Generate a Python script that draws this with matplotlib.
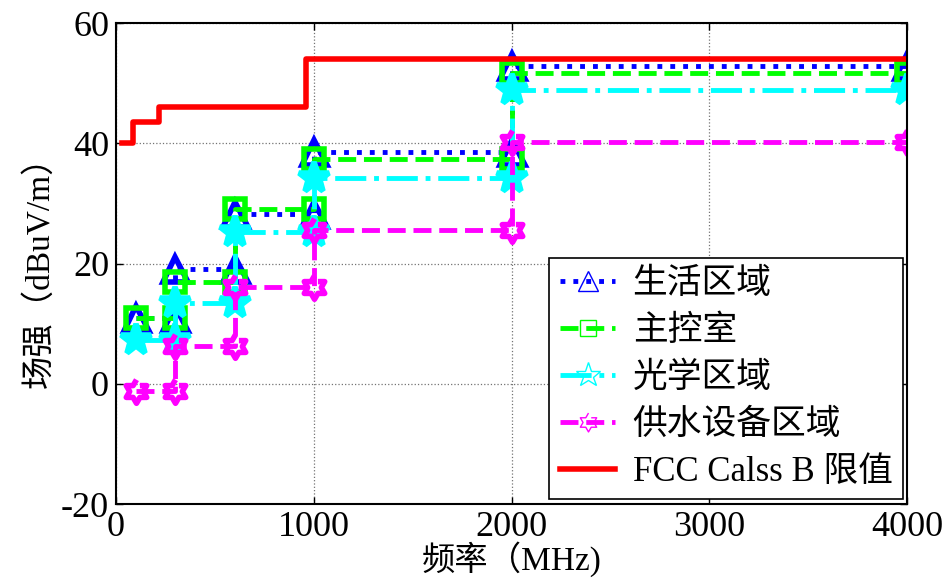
import numpy as np
import matplotlib
matplotlib.use("Agg")
from matplotlib import pyplot as plt
from matplotlib.lines import Line2D

plt.rcParams['font.family'] = ['Liberation Serif', 'Noto Sans CJK SC', 'DejaVu Sans']
plt.rcParams['axes.unicode_minus'] = False

# measurement bands (MHz) and field strength per band (dBuV/m)
freq_edges = [100, 300, 600, 1000, 2000, 4000]
living = [11.0, 19.1, 28.3, 38.5, 52.9]
control = [11.0, 16.9, 29.0, 37.4, 51.7]
optical = [7.2, 13.5, 25.2, 34.2, 48.8]
water = [-1.2, 6.3, 16.1, 25.5, 40.2]

# FCC class B limit
fcc_edges = [30, 88, 216, 960, 4000]
fcc_levels = [40.0, 43.5, 46.0, 54.0]

labels = ['生活区域', '主控室', '光学区域', '供水设备区域', 'FCC Calss B 限值']


def band_path(edges, levels):
    xs, ys = [], []
    for i, lv in enumerate(levels):
        xs += [edges[i], edges[i + 1]]
        ys += [lv, lv]
    return xs, ys


# hexagram marker shape (two overlapping triangles)
ang = np.deg2rad(np.arange(12) * 30 + 90)
rad = np.where(np.arange(12) % 2 == 0, 1.0, 1 / np.sqrt(3))
hexagram = list(zip(rad * np.cos(ang), rad * np.sin(ang)))

styles = [
    dict(color='#0000ff', ls=':', marker='^', ms=18, fill='none'),
    dict(color='#00ff00', ls='--', marker='s', ms=14, fill='none'),
    dict(color='#00ffff', ls='-.', marker='*', ms=23, fill='#00ffff'),
    dict(color='#ff00ff', ls='--', marker=hexagram, ms=17, fill='none'),
]

fig = plt.figure(figsize=(9.46, 5.83), dpi=100)
ax = fig.add_axes([0.1226, 0.1355, 0.8362, 0.825])

handles = []
for vals, st in zip([living, control, optical, water], styles):
    xs, ys = band_path(freq_edges, vals)
    ax.plot(xs, ys, color=st['color'], ls=st['ls'], lw=3.5, marker=st['marker'],
            ms=st['ms'], mfc=st['fill'], mec=st['color'], mew=4)
    handles.append(Line2D([], [], color=st['color'], ls=st['ls'], lw=3.5,
                          marker=st['marker'], ms=st['ms'] * 0.8, mfc='none',
                          mec=st['color'], mew=1))

fx, fy = band_path(fcc_edges, fcc_levels)
ax.plot(fx, fy, color='#ff0000', lw=4)
handles.append(Line2D([], [], color='#ff0000', lw=4))

ax.set_xlim(0, 4000)
ax.set_ylim(-20, 60)
ax.set_xticks([0, 1000, 2000, 3000, 4000])
ax.set_yticks([-20, 0, 20, 40, 60])
ax.grid(True, ls=':', color='0.45', lw=0.9)
ax.tick_params(direction='in', length=5, width=1, top=True, right=True,
               labelsize=26, pad=5)
for sp in ax.spines.values():
    sp.set_linewidth(1.5)

ax.set_xlabel('频率（MHz)', fontsize=24, labelpad=-2)
ax.set_ylabel('场强（dBuV/m）', fontsize=24, labelpad=4)

leg = ax.legend(handles, labels, loc='lower right', bbox_to_anchor=(0.995, 0.01),
                borderaxespad=0, fontsize=25, handlelength=1.6, handletextpad=0.5,
                labelspacing=0.4, borderpad=0.3, fancybox=False, framealpha=1)
leg.get_frame().set_edgecolor('black')
leg.get_frame().set_linewidth(1.2)

fig.savefig('out.png', dpi=100)
